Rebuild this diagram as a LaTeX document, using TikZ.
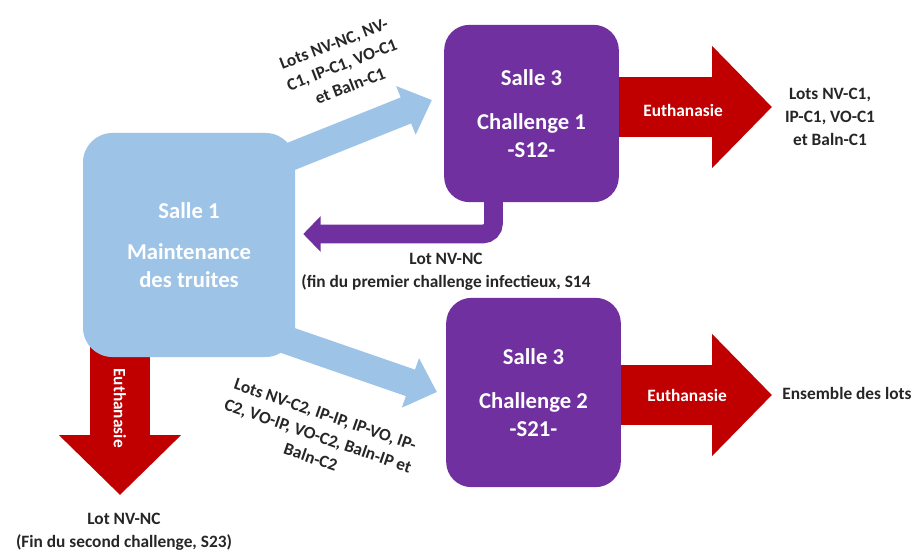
\documentclass[tikz,border=0pt]{standalone}
\usepackage{fontspec}
\setmainfont{Carlito}
\usetikzlibrary{arrows.meta,calc,backgrounds}

\definecolor{bleusalle}{HTML}{9DC3E6}
\definecolor{violet}{HTML}{7030A0}
\definecolor{rouge}{HTML}{C00000}
\definecolor{texte}{HTML}{262626}

\begin{document}
\begin{tikzpicture}[
       x=0.75pt, y=-0.75pt,
       salle/.style={
         rectangle,
         text=white,
         align=center,
         inner sep=0pt,
         font=\fontsize{17}{21}\selectfont\bfseries
       },
       maint/.style={salle, fill=bleusalle, rounded corners=22pt,
         minimum width=159pt, minimum height=168pt},
       chall/.style={salle, fill=violet, rounded corners=19pt,
         minimum width=131pt, minimum height=133pt},
       fleche/.style={draw=bleusalle, line width=21pt,
         -{Triangle[length=21pt,width=38pt]}},
       retour/.style={draw=violet, line width=14pt, rounded corners=8pt,
         -{Triangle[length=13pt,width=26pt]}},
       euth/.style={draw=rouge, line width=45pt,
         -{Triangle[length=45pt,width=89pt]}},
       etiq/.style={text=texte, align=center,
         font=\fontsize{13}{17}\selectfont\bfseries},
       mort/.style={text=white, inner sep=0pt,
         font=\fontsize{13}{16}\selectfont\bfseries}
     ]

       \useasboundingbox (0,0) rectangle (916,556);

       \node (s1) at (189,245) [maint]{Salle 1\\[10pt]Maintenance\\des truites};
       \node (c1) at (531.5,113.5) [chall]{Salle 3\\[12pt]Challenge 1\\-S12-};
       \node (c2) at (533.5,392.5) [chall,minimum height=142pt]{Salle 3\\[12pt]Challenge 2\\-S21-};

       \coordinate (f1) at (772,107);
       \coordinate (f2) at (772,395);
       \coordinate (f3) at (120,495);

       \begin{pgfonlayer}{background}
       \draw[fleche] ($(s1.north east)+(-45,40)$) -- ($(c1.west)+(-12,-13.5)$);
       \draw[fleche] ($(s1.south east)+(-37,-27)$) -- ($(c2.west)+(-9,-0.5)$);
       \draw[retour] ($(c1.south)+(-38,-10)$) |- ($(s1.east)+(8,-11)$);
       \draw[euth] ($(c1.east|-f1)+(-10,0)$) -- (f1);
       \draw[euth] ($(c2.east|-f2)+(-10,0)$) -- (f2);
       \draw[euth] ($(s1.south-|f3)+(0,-20)$) -- (f3);
       \end{pgfonlayer}

       \node (e1) at (683,110) [mort]{Euthanasie};
       \node (e2) at (687,395) [mort]{Euthanasie};
       \node (e3) at (120,408) [mort,rotate=-90]{Euthanasie};

       \node (l1) at (830,117) [etiq]{Lots NV-C1,\\IP-C1, VO-C1\\et Baln-C1};
       \node (l2) at (847,393) [etiq]{Ensemble des lots};
       \node (l3) at (446,272) [etiq]{Lot NV-NC\\(fin du premier challenge infectieux, S14};
       \node (l4) at (124,532) [etiq]{Lot NV-NC\\(Fin du second challenge, S23)};
       \node (l5) at (342,65) [etiq,rotate=21]{Lots NV-NC, NV-\\C1, IP-C1, VO-C1\\et Baln-C1};
       \node (l6) at (318,436) [etiq,rotate=-19]{Lots NV-C2, IP-IP, IP-VO, IP-\\C2, VO-IP, VO-C2, Baln-IP et\\Baln-C2};

\end{tikzpicture}
\end{document}
